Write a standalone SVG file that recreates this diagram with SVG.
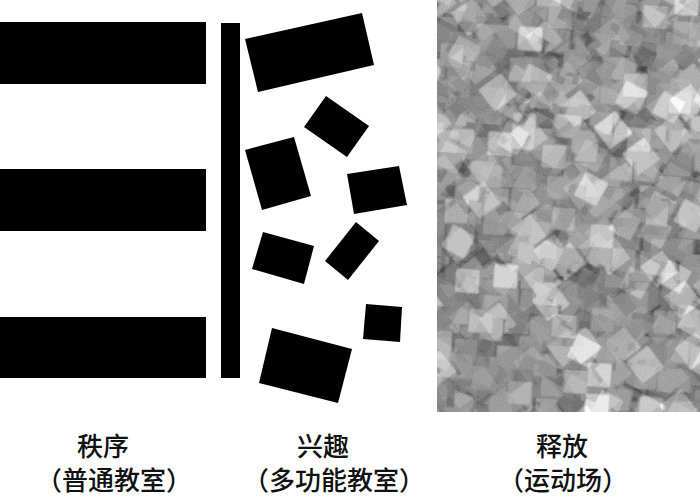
<svg xmlns="http://www.w3.org/2000/svg" width="700" height="504" viewBox="0 0 700 504">
  <style>
    .blk { fill: #000; }
    .lbl { font-family: "Noto Sans CJK SC", "Noto Sans CJK JP", sans-serif; font-size: 26px; font-weight: 500; fill: #111; text-anchor: middle; }
  </style>
  <defs>
    <filter id="cellsA" x="0" y="0" width="1" height="1" filterUnits="objectBoundingBox" color-interpolation-filters="sRGB">
      <feTurbulence type="fractalNoise" baseFrequency="0.13" numOctaves="1" seed="5" result="n"/>
      <feComponentTransfer in="n" result="o"><feFuncA type="linear" slope="0" intercept="1"/></feComponentTransfer>
      <feMorphology in="o" operator="dilate" radius="11" result="dl"/>
      <feColorMatrix in="dl" type="matrix" values="1 0 0 0 0  1 0 0 0 0  1 0 0 0 0  0 0 0 0 1"/>
    </filter>
    <filter id="cellsB" x="0" y="0" width="1" height="1" filterUnits="objectBoundingBox" color-interpolation-filters="sRGB">
      <feTurbulence type="fractalNoise" baseFrequency="0.13" numOctaves="1" seed="23" result="n"/>
      <feComponentTransfer in="n" result="o"><feFuncA type="linear" slope="0" intercept="1"/></feComponentTransfer>
      <feMorphology in="o" operator="dilate" radius="12" result="dl"/>
      <feColorMatrix in="dl" type="matrix" values="0 1 0 0 0  0 1 0 0 0  0 1 0 0 0  0 0 0 0 1"/>
    </filter>
    <filter id="cellsC" x="0" y="0" width="1" height="1" filterUnits="objectBoundingBox" color-interpolation-filters="sRGB">
      <feTurbulence type="fractalNoise" baseFrequency="0.13" numOctaves="1" seed="41" result="n"/>
      <feComponentTransfer in="n" result="o"><feFuncA type="linear" slope="0" intercept="1"/></feComponentTransfer>
      <feMorphology in="o" operator="dilate" radius="10" result="dl"/>
      <feColorMatrix in="dl" type="matrix" values="0 0 1 0 0  0 0 1 0 0  0 0 1 0 0  0 0 0 0 1"/>
    </filter>
    <filter id="tone" x="0" y="0" width="1" height="1" filterUnits="objectBoundingBox" color-interpolation-filters="sRGB">
      <feComponentTransfer in="SourceGraphic" result="s">
        <feFuncR type="linear" slope="5.5" intercept="-3.46"/>
        <feFuncG type="linear" slope="5.5" intercept="-3.46"/>
        <feFuncB type="linear" slope="5.5" intercept="-3.46"/>
      </feComponentTransfer>
      <feTurbulence type="fractalNoise" baseFrequency="0.9" numOctaves="1" seed="3" result="gr"/>
      <feColorMatrix in="gr" type="matrix" result="grain" values="1 0 0 0 0  1 0 0 0 0  1 0 0 0 0  0 0 0 0 1"/>
      <feComposite in="s" in2="grain" operator="arithmetic" k1="0" k2="1" k3="0.12" k4="-0.06"/>
    </filter>
    <clipPath id="fieldClip"><rect x="437" y="0" width="263" height="412"/></clipPath>
  </defs>
  <rect width="700" height="504" fill="#fff"/>

  <g id="order">
    <rect class="blk" x="0" y="22" width="206" height="62"/>
    <rect class="blk" x="0" y="169" width="206" height="62"/>
    <rect class="blk" x="0" y="317" width="206" height="61"/>
  </g>

  <g id="divider">
    <rect class="blk" x="221" y="23" width="19" height="355"/>
  </g>

  <g id="interest">
    <polygon class="blk" points="245,39 362,13 374,65 258,92"/>
    <polygon class="blk" points="326,96 369,126 347,157 304,127"/>
    <polygon class="blk" points="245,150 294,137 311,196 262,210"/>
    <polygon class="blk" points="347,174 399,166 407,205 354,214"/>
    <polygon class="blk" points="263,232 314,246 304,284 252,269"/>
    <polygon class="blk" points="356,222 379,241 348,280 325,261"/>
    <polygon class="blk" points="366,304 402,307 400,342 363,339"/>
    <polygon class="blk" points="272,328 352,349 338,403 259,383"/>
  </g>

  <g id="release" clip-path="url(#fieldClip)">
    <g filter="url(#tone)">
      <rect x="318" y="-74" width="500" height="560" fill="#808080" filter="url(#cellsA)" transform="rotate(28 568 206)"/>
      <rect x="318" y="-74" width="500" height="560" fill="#808080" filter="url(#cellsB)" opacity="0.5" transform="rotate(-37 568 206)"/>
      <rect x="318" y="-74" width="500" height="560" fill="#808080" filter="url(#cellsC)" opacity="0.33" transform="rotate(4 568 206)"/>
    </g>
  </g>

  <g id="label-order">
    <text class="lbl" x="103" y="456">秩序</text>
    <text class="lbl" x="114" y="490">（普通教室）</text>
  </g>
  <g id="label-interest">
    <text class="lbl" x="323" y="456">兴趣</text>
    <text class="lbl" x="334" y="490">（多功能教室）</text>
  </g>
  <g id="label-release">
    <text class="lbl" x="562" y="456">释放</text>
    <text class="lbl" x="563" y="490">（运动场）</text>
  </g>
</svg>
